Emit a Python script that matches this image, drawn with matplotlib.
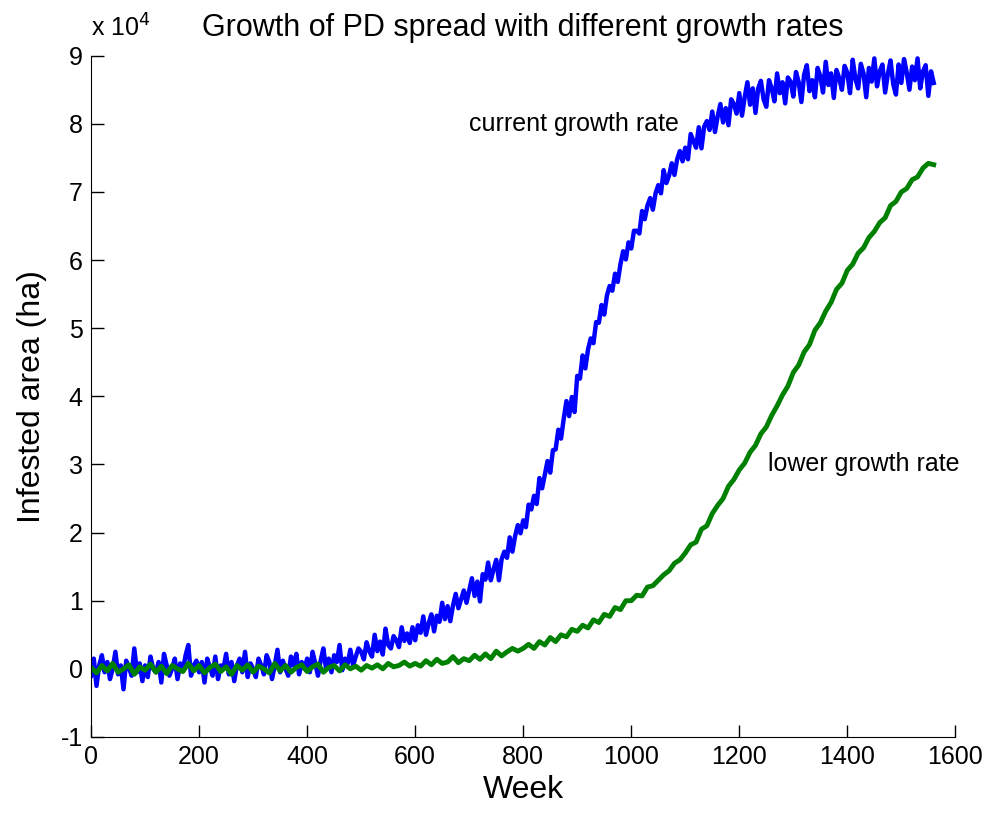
import numpy as np
import matplotlib
matplotlib.use("Agg")
import matplotlib.pyplot as plt

plt.rcParams['font.family'] = ['Liberation Sans', 'DejaVu Sans']
plt.rcParams['axes.unicode_minus'] = False

# infested area in units of 10^4 ha
weeks_current = np.arange(0, 1561, 5)
current_rate = [
    -0.1, 0.15, -0.25, 0.05, 0.2, -0.05, 0.1, -0.15, 0.0, 0.25, -0.08, 0.05, -0.3, 0.12, 0.02, -0.1, 0.3, -0.05, 0.08, -0.18,
    0.05, -0.12, 0.18, 0.0, -0.05, 0.1, -0.2, 0.22, 0.05, -0.1, 0.0, 0.15, -0.15, 0.08, -0.02, 0.2, 0.35, -0.1, 0.05, 0.12,
    -0.05, 0.1, -0.2, 0.15, 0.02, -0.1, 0.18, -0.15, 0.05, 0.0, 0.22, -0.08, 0.1, -0.18, 0.05, 0.15, -0.05, 0.25, -0.12, 0.08,
    0.0, -0.12, 0.15, 0.05, -0.08, 0.2, 0.1, -0.15, 0.05, 0.28, -0.05, 0.12, 0.0, -0.1, 0.18, 0.05, 0.22, -0.08, 0.1, 0.0,
    0.15, -0.05, 0.25, 0.08, -0.1, 0.12, 0.3, 0.0, 0.15, -0.05, 0.2, 0.1, 0.35, -0.02, 0.15, 0.08, 0.28, 0.05, 0.18, 0.3,
    0.25, 0.14, 0.39, 0.26, 0.18, 0.5, 0.26, 0.4, 0.21, 0.59, 0.35, 0.3, 0.48, 0.42, 0.32, 0.61, 0.41, 0.52, 0.38, 0.61,
    0.42, 0.64, 0.53, 0.77, 0.5, 0.67, 0.8, 0.55, 0.78, 0.69, 0.97, 0.73, 0.92, 0.7, 0.93, 1.1, 0.89, 1.02, 1.15, 0.97,
    1.15, 1.33, 1.07, 1.28, 0.99, 1.39, 1.31, 1.56, 1.3, 1.46, 1.6, 1.3, 1.61, 1.72, 1.63, 1.93, 1.72, 1.95, 2.11, 1.99,
    2.18, 2.08, 2.41, 2.34, 2.54, 2.42, 2.8, 2.65, 2.85, 3.05, 2.88, 3.21, 3.22, 3.51, 3.38, 3.67, 3.93, 3.71, 3.99, 3.77,
    4.3, 4.26, 4.6, 4.41, 4.69, 4.85, 4.78, 5.09, 5.08, 5.34, 5.2, 5.48, 5.62, 5.55, 5.8, 5.68, 5.94, 6.13, 6.01, 6.26,
    6.17, 6.43, 6.43, 6.39, 6.72, 6.6, 6.8, 6.91, 6.74, 6.98, 7.1, 6.98, 7.32, 7.13, 7.24, 7.42, 7.25, 7.48, 7.6, 7.45,
    7.65, 7.48, 7.85, 7.75, 7.65, 7.95, 7.64, 7.96, 8.04, 7.91, 8.18, 7.88, 8.11, 8.29, 8.02, 8.23, 7.98, 8.36, 8.29, 8.15,
    8.45, 8.12, 8.39, 8.61, 8.28, 8.52, 8.16, 8.52, 8.63, 8.36, 8.25, 8.64, 8.52, 8.33, 8.74, 8.45, 8.61, 8.3, 8.68, 8.62,
    8.4, 8.76, 8.61, 8.32, 8.72, 8.86, 8.48, 8.64, 8.39, 8.82, 8.7, 8.46, 8.91, 8.57, 8.74, 8.38, 8.79, 8.67, 8.5, 8.85,
    8.75, 8.45, 8.94, 8.66, 8.52, 8.88, 8.74, 8.39, 8.82, 8.62, 8.96, 8.55, 8.77, 8.87, 8.46, 8.73, 8.93, 8.58, 8.43, 8.87,
    8.6, 8.95, 8.75, 8.5, 8.84, 8.64, 8.96, 8.52, 8.77, 8.86, 8.41, 8.77, 8.6,
]

weeks_lower = np.arange(0, 1561, 10)
lower_rate = [
    0.02, -0.06, 0.05, -0.03, 0.08, -0.05, 0.0, 0.06, -0.08, 0.03,
    -0.02, 0.07, -0.05, 0.04, -0.07, 0.05, 0.0, -0.04, 0.08, -0.03,
    0.05, -0.06, 0.02, 0.07, -0.04, 0.03, -0.08, 0.05, -0.02, 0.06,
    -0.05, 0.04, 0.0, -0.06, 0.08, -0.03, 0.05, -0.05, 0.02, 0.06,
    -0.04, 0.03, 0.07, -0.05, 0.02, 0.05, -0.03, 0.06, 0.0, 0.04,
    -0.02, 0.05, 0.01, 0.06, 0.0, 0.08, 0.03, 0.05, 0.1, 0.04,
    0.08, 0.04, 0.12, 0.06, 0.14, 0.08, 0.1, 0.18, 0.09, 0.15,
    0.12, 0.2, 0.14, 0.22, 0.15, 0.26, 0.19, 0.25, 0.3, 0.26,
    0.3, 0.36, 0.3, 0.4, 0.35, 0.46, 0.4, 0.5, 0.47, 0.58,
    0.55, 0.64, 0.6, 0.72, 0.68, 0.8, 0.77, 0.9, 0.87, 1.0,
    1.0, 1.08, 1.07, 1.2, 1.22, 1.3, 1.38, 1.44, 1.55, 1.6,
    1.7, 1.82, 1.86, 2.05, 2.1, 2.28, 2.4, 2.5, 2.68, 2.78,
    2.92, 3.02, 3.18, 3.28, 3.45, 3.55, 3.72, 3.86, 4.02, 4.15,
    4.35, 4.46, 4.65, 4.76, 4.97, 5.08, 5.25, 5.38, 5.57, 5.66,
    5.85, 5.94, 6.1, 6.18, 6.33, 6.42, 6.55, 6.62, 6.8, 6.86,
    7.0, 7.05, 7.18, 7.22, 7.35, 7.42, 7.4,
]

fig = plt.figure(figsize=(9.9, 8.13), dpi=100)
ax = fig.add_axes([0.092, 0.0935, 0.873, 0.838])

ax.plot(weeks_current, current_rate, color=(0, 0, 1), lw=3.2)
ax.plot(weeks_lower, lower_rate, color=(0, 0.5, 0), lw=3.5)

ax.set_xlim(0, 1600)
ax.set_ylim(-1, 9)
ax.set_xticks(range(0, 1601, 200))
ax.set_yticks(range(-1, 10))

for side in ['top', 'right']:
    ax.spines[side].set_visible(False)
ax.tick_params(direction='in', length=9, width=1, labelsize=18, pad=6)

ax.set_xlabel('Week', fontsize=23, labelpad=4)
ax.set_ylabel('Infested area (ha)', fontsize=23, labelpad=10)
ax.set_title('Growth of PD spread with different growth rates', fontsize=22, pad=14)
ax.text(0.0, 1.02, r'x 10$^{4}$', transform=ax.transAxes, fontsize=18, va='bottom')

ax.text(700, 8.0, 'current growth rate', fontsize=18, va='center')
ax.text(1254, 3.0, 'lower growth rate', fontsize=18, va='center')

fig.savefig('out.png', dpi=100)
